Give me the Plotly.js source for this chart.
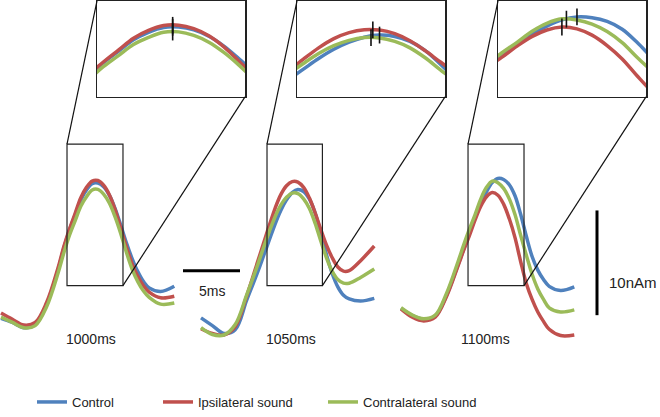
<!DOCTYPE html>
<html><head><meta charset="utf-8">
<script src="https://cdn.plot.ly/plotly-3.0.1.min.js"></script>
<style>html,body{margin:0;padding:0;background:#fff}#chart{width:660px;height:417px}</style>
</head><body><div id="chart"></div>
<script>
// ---- data (ms from segment start, nAm) ----
const times = [0,1,2,3,4,5,5.5,6,6.5,7,7.5,8,8.5,9,9.5,10,10.5,11,11.5,12,12.5,13,14,15.2];
const seriesNames = ['Control','Ipsilateral sound','Contralateral sound'];
const panelLabels = ['1000ms','1050ms','1100ms'];

const p1Control = [-0.2,-0.6,-1.1,-0.8,1.1,4.4,6.45,8.2,9.65,11.1,12.05,12.65,12.7,12.35,11.55,10.3,8.7,7.0,5.5,4.25,3.3,2.7,2.35,2.85];
const p1Ipsi    = [0.3,-0.3,-0.85,-0.6,1.3,4.6,6.6,8.3,9.8,11.3,12.3,12.9,12.95,12.5,11.6,10.2,8.4,6.6,5.0,3.8,2.9,2.3,1.75,1.9];
const p1Contra  = [-0.1,-0.6,-1.1,-0.9,0.9,4.1,6.0,7.7,9.1,10.5,11.4,12.05,12.1,11.65,10.8,9.5,7.9,6.1,4.5,3.3,2.4,1.8,1.15,1.25];

const p2Control = [-0.16,-0.9,-1.65,-1.3,1.5,4.3,5.8,7.3,8.8,10.1,11.1,11.8,12.1,11.9,11.2,9.9,8.0,5.9,4.1,2.8,2.0,1.65,1.45,1.7];
const p2Ipsi    = [-1.2,-1.65,-1.8,-1.0,1.9,5.3,7.0,8.7,10.3,11.6,12.45,12.85,12.8,12.3,11.3,9.9,8.3,6.8,5.6,4.7,4.3,4.35,5.3,6.7];
const p2Contra  = [-1.1,-1.75,-1.8,-0.8,2.0,5.0,6.6,8.1,9.5,10.6,11.35,11.75,11.7,11.2,10.3,8.9,7.2,5.6,4.3,3.5,3.15,3.15,3.7,4.5];

const p3Control = [0.75,0.05,-0.3,0.0,2.0,4.9,6.4,7.9,9.4,10.8,11.9,12.75,13.15,13.05,12.55,11.5,9.7,7.6,5.7,4.4,3.5,2.85,2.45,2.8];
const p3Ipsi    = [0.7,-0.1,-0.45,-0.1,1.9,4.8,6.3,7.7,9.2,10.5,11.4,11.8,11.55,10.7,9.3,7.5,5.2,3.1,1.6,0.4,-0.5,-1.25,-1.85,-1.8];
const p3Contra  = [0.8,0.1,-0.25,0.1,2.2,5.2,6.8,8.3,9.7,11.2,12.3,12.9,12.75,12.2,11.2,9.7,7.7,5.8,4.0,2.6,1.6,0.8,0.4,0.6];

// peak latencies (ms) marked in the insets: Control, Ipsilateral, Contralateral
const peakTimes1 = [8.3, 8.3, 8.3];
const peakTimes2 = [8.5, 8.28, 8.22];
const peakTimes3 = [8.5, 8.0, 8.15];

// zoom windows (ms, nAm)
const boxStart = [5.79, 5.79, 5.88];
const boxEnd   = [10.70, 10.65, 10.79];
const boxLow   = [2.92, 2.92, 2.92];
const boxHigh  = [16.42, 16.42, 16.42];
const insetLow  = [3.9, 3.4, 2.4];
const insetHigh = [16.0, 16.9, 15.3];

const scaleBarMs = 5, scaleBarNAm = 10;

// ---- layout geometry ----
const W = 660, H = 417;
const colors = ['#4F81BD', '#C0504D', '#9BBB59'];
const pxPerMs = 11.4, pxPerNAm = 10.6;
const panelX0 = [1, 201, 401];
const zeroY = 320, mainTop = 128, mainBottom = 352;
const insetLeft = [97, 297, 498], insetW = 148, insetTop = 1, insetBottom = 98;
const FONT = 'Liberation Sans, Arial, sans-serif';
const LW = 3.5;

const panels = [[p1Control, p1Ipsi, p1Contra], [p2Control, p2Ipsi, p2Contra], [p3Control, p3Ipsi, p3Contra]];
const peaks = [peakTimes1, peakTimes2, peakTimes3];

function interp(xs, ys, x) {
  for (let i = 0; i < xs.length - 1; i++) {
    if (x >= xs[i] && x <= xs[i + 1]) {
      const f = (x - xs[i]) / (xs[i + 1] - xs[i]);
      return ys[i] + f * (ys[i + 1] - ys[i]);
    }
  }
  return ys[ys.length - 1];
}

const layout = {
  width: W, height: H, margin: {l: 0, r: 0, t: 0, b: 0},
  paper_bgcolor: '#fff', plot_bgcolor: 'rgba(0,0,0,0)',
  hovermode: false, shapes: [], annotations: []
};

const traces = [];

panels.forEach((series, k) => {
  const xa = k === 0 ? 'xaxis' : 'xaxis' + (k + 1);
  const d0 = Math.max(0, panelX0[k] - 3), d1 = panelX0[k] + 186;
  layout[xa] = {domain: [d0 / W, d1 / W], range: [(d0 - panelX0[k]) / pxPerMs, (d1 - panelX0[k]) / pxPerMs],
    visible: false, anchor: 'y', fixedrange: true};
  const ixa = 'xaxis' + (4 + k), iya = 'yaxis' + (2 + k);
  const axStyle = {showline: true, mirror: true, linecolor: '#222', linewidth: 1.5, showticklabels: false,
    ticks: '', showgrid: false, zeroline: false, fixedrange: true};
  layout[ixa] = Object.assign({domain: [insetLeft[k] / W, (insetLeft[k] + insetW) / W],
    range: [boxStart[k], boxEnd[k]], anchor: 'y' + (2 + k)}, axStyle);
  layout[iya] = Object.assign({domain: [1 - insetBottom / H, 1 - insetTop / H],
    range: [insetLow[k], insetHigh[k]], anchor: 'x' + (4 + k)}, axStyle);
});
layout.yaxis = {domain: [1 - mainBottom / H, 1 - mainTop / H],
  range: [(zeroY - mainBottom) / pxPerNAm, (zeroY - mainTop) / pxPerNAm], visible: false, anchor: 'x', fixedrange: true};

panels.forEach((series, k) => {
  const xr = k === 0 ? 'x' : 'x' + (k + 1);
  series.forEach((vals, s) => {
    traces.push({x: times, y: vals, xaxis: xr, yaxis: 'y', mode: 'lines', name: seriesNames[s],
      line: {color: colors[s], width: LW, shape: 'spline', smoothing: 1},
      showlegend: k === 0, legend: s === 0 ? 'legend' : 'legend' + (s + 1)});
  });
  series.forEach((vals, s) => {
    traces.push({x: times, y: vals, xaxis: 'x' + (4 + k), yaxis: 'y' + (2 + k), mode: 'lines',
      line: {color: colors[s], width: LW, shape: 'spline', smoothing: 1}, showlegend: false});
  });
  traces.push({x: peaks[k], y: peaks[k].map((t, s) => interp(times, series[s], t)),
    xaxis: 'x' + (4 + k), yaxis: 'y' + (2 + k), mode: 'markers', showlegend: false, cliponaxis: false,
    marker: {symbol: 'line-ns', size: 12, color: '#111', line: {width: 1.6, color: '#111'}}});

  // zoom box on the waveform
  layout.shapes.push({type: 'rect', xref: xr, yref: 'y', x0: boxStart[k], x1: boxEnd[k], y0: boxLow[k], y1: boxHigh[k],
    line: {color: '#222', width: 1.2}});
  // connectors (paper coordinates derived from the axis mapping)
  const px = t => (panelX0[k] + t * pxPerMs) / W;
  const py = v => 1 - (zeroY - v * pxPerNAm) / H;
  layout.shapes.push({type: 'line', xref: 'paper', yref: 'paper', x0: px(boxStart[k]), y0: py(boxHigh[k]),
    x1: insetLeft[k] / W, y1: 1 - insetTop / H, line: {color: '#111', width: 1.2}});
  layout.shapes.push({type: 'line', xref: 'paper', yref: 'paper', x0: px(boxEnd[k]), y0: py(boxLow[k]),
    x1: (insetLeft[k] + insetW) / W, y1: 1 - insetBottom / H, line: {color: '#111', width: 1.2}});
});

// panel labels
const labelX = [91, 291, 485];
panelLabels.forEach((lab, k) => layout.annotations.push({text: lab, xref: 'paper', yref: 'paper',
  x: labelX[k] / W, y: 1 - 343 / H, xanchor: 'center', yanchor: 'middle', showarrow: false,
  font: {family: FONT, size: 14, color: '#222'}}));

// scale bars
const hbX0 = 183, hbY = 274;
layout.shapes.push({type: 'line', xref: 'paper', yref: 'paper', x0: hbX0 / W, x1: (hbX0 + scaleBarMs * pxPerMs) / W,
  y0: 1 - hbY / H, y1: 1 - hbY / H, line: {color: '#000', width: 3}});
layout.annotations.push({text: scaleBarMs + 'ms', xref: 'paper', yref: 'paper', x: 197 / W, y: 1 - 295 / H,
  xanchor: 'left', yanchor: 'middle', showarrow: false, font: {family: FONT, size: 14, color: '#222'}});
const vbX = 597, vbY0 = 319;
layout.shapes.push({type: 'line', xref: 'paper', yref: 'paper', x0: vbX / W, x1: vbX / W,
  y0: 1 - vbY0 / H, y1: 1 - (vbY0 - scaleBarNAm * pxPerNAm) / H, line: {color: '#000', width: 3}});
layout.annotations.push({text: scaleBarNAm + 'nAm', xref: 'paper', yref: 'paper', x: 607 / W, y: 1 - 286 / H,
  xanchor: 'left', yanchor: 'middle', showarrow: false, font: {family: FONT, size: 15, color: '#222'}});

// legends
const legX = [32, 158, 323];
['legend', 'legend2', 'legend3'].forEach((L, i) => {
  layout[L] = {x: legX[i] / W, y: 1 - 407 / H, xanchor: 'left', yanchor: 'middle', orientation: 'h',
    bgcolor: 'rgba(0,0,0,0)', borderwidth: 0, font: {family: FONT, size: 13, color: '#222'}};
});

Plotly.newPlot('chart', traces, layout, {displayModeBar: false, staticPlot: true});
</script></body></html>
